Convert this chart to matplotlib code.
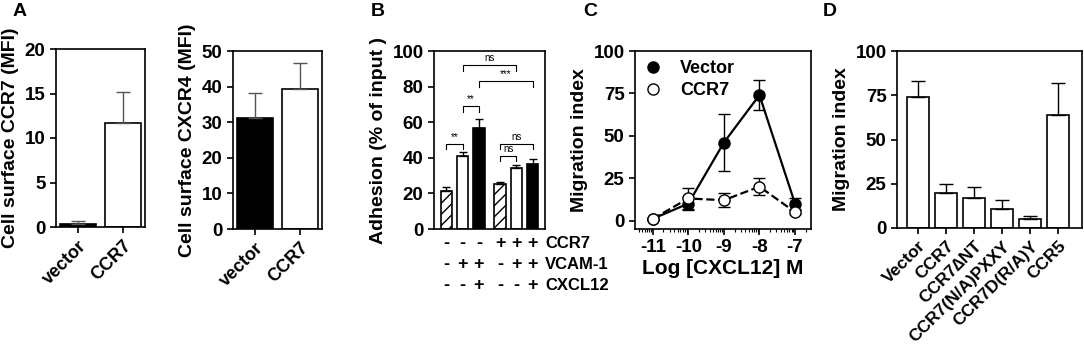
import numpy as np
import matplotlib
matplotlib.use("Agg")
import matplotlib.pyplot as plt
from matplotlib.lines import Line2D

plt.rcParams['font.family'] = ['Liberation Sans', 'DejaVu Sans']
plt.rcParams['font.weight'] = 'bold'
plt.rcParams['axes.labelweight'] = 'bold'
plt.rcParams['axes.linewidth'] = 1.2
plt.rcParams['xtick.major.width'] = 1.2
plt.rcParams['ytick.major.width'] = 1.2
plt.rcParams['xtick.major.size'] = 4
plt.rcParams['ytick.major.size'] = 4

# ---- data ----
# panel A
a_labels = ["vector", "CCR7"]
a1_vals = [0.3, 11.7]
a1_err = [0.35, 3.5]
a2_vals = [31.2, 39.2]
a2_err = [7.0, 7.5]

# panel B
b_vals = [21.5, 41.0, 57.0, 25.3, 34.0, 36.7]
b_err = [2.0, 2.5, 5.0, 1.0, 2.0, 2.5]
b_pos = [0, 1, 2, 3.3, 4.3, 5.3]
b_rows = ["CCR7", "VCAM-1", "CXCL12"]
b_signs = [["-", "-", "-", "+", "+", "+"],
           ["-", "+", "+", "-", "+", "+"],
           ["-", "-", "+", "-", "-", "+"]]
# brackets: (bar i, bar j, height, label)
b_brackets = [(0, 1, 48, "**"), (1, 2, 69, "**"), (1, 4, 92, "ns"),
              (2, 5, 83, "***"), (3, 4, 41, "ns"), (3, 5, 48, "ns")]

# panel C
c_x = [-11, -10, -9, -8, -7]
c_vector = [1, 10, 46, 74, 10]
c_vector_err = [0.5, 4, 17, 9, 3]
c_ccr7 = [1, 13, 12, 20, 5]
c_ccr7_err = [0.5, 6, 4, 5, 1]

# panel D
d_labels = ["Vector", "CCR7", "CCR7\u2206NT", "CCR7(N/A)PXXY", "CCR7D(R/A)Y", "CCR5"]
d_vals = [74, 20, 17, 10.5, 5, 64]
d_err = [9, 5, 6, 5.5, 2, 18]

W, H = 1084, 345
fig = plt.figure(figsize=(W / 100, H / 100), dpi=100)


def add_ax(l, t, r, b):
    return fig.add_axes([l / W, 1 - b / H, (r - l) / W, (b - t) / H])


def bar_panel(ax, vals, err, colors, labels, ylim, yticks, ylabel, ecolor="black", xfs=13):
    x = np.arange(len(vals))
    ax.bar(x, vals, width=0.8, color=colors, edgecolor="black", linewidth=1.2)
    ax.errorbar(x, vals, yerr=[np.zeros(len(err)), err], fmt="none",
                ecolor=ecolor, elinewidth=1, capsize=5, capthick=1)
    ax.set_xlim(-0.5, len(vals) - 0.5)
    ax.set_ylim(*ylim)
    ax.set_yticks(yticks)
    ax.set_xticks(x)
    ax.set_xticklabels(labels, rotation=45, ha="right", rotation_mode="anchor", fontsize=xfs)
    ax.tick_params(axis="y", labelsize=13.5)
    ax.set_ylabel(ylabel, fontsize=14, labelpad=4)


# A1
ax = add_ax(56, 49, 145, 227)
bar_panel(ax, a1_vals, a1_err, ["black", "white"], a_labels, (0, 20),
          [0, 5, 10, 15, 20], "Cell surface CCR7 (MFI)", ecolor="#555555")

# A2
ax = add_ax(233, 51, 322, 229)
bar_panel(ax, a2_vals, a2_err, ["black", "white"], a_labels, (0, 50),
          [0, 10, 20, 30, 40, 50], "Cell surface CXCR4 (MFI)", ecolor="#555555")

# B
ax = add_ax(434, 51, 545, 229)
hatches = ["///", "", "", "///", "", ""]
colors = ["white", "white", "black", "white", "white", "black"]
for p, v, c, h in zip(b_pos, b_vals, colors, hatches):
    ax.bar(p, v, width=0.7, color=c, edgecolor="black", hatch=h, linewidth=1.2)
ax.errorbar(b_pos, b_vals, yerr=[np.zeros(len(b_err)), b_err], fmt="none",
            ecolor="black", elinewidth=1, capsize=3, capthick=1)
for i, j, hgt, lab in b_brackets:
    x1, x2 = b_pos[i], b_pos[j]
    ax.plot([x1, x1, x2, x2], [hgt - 3, hgt, hgt, hgt - 3], color="black", lw=0.8)
    ax.text((x1 + x2) / 2, hgt + 1, lab, ha="center", va="bottom", fontsize=7,
            fontweight="normal")
ax.set_xlim(-0.75, 6.05)
ax.set_ylim(0, 100)
ax.set_yticks([0, 20, 40, 60, 80, 100])
ax.set_xticks([])
ax.tick_params(axis="y", labelsize=13.5)
ax.set_ylabel("Adhesion (% of input )", fontsize=14, labelpad=4)
tr = ax.get_xaxis_transform()
row_y = [-0.08, -0.2, -0.315]
for ry, name, signs in zip(row_y, b_rows, b_signs):
    for p, s in zip(b_pos, signs):
        ax.text(p, ry, s, transform=tr, ha="center", va="center", fontsize=13)
    ax.text(b_pos[-1] + 0.75, ry, name, transform=tr, ha="left", va="center", fontsize=12)

# C
ax = add_ax(635, 51, 811, 229)
ax.errorbar(c_x, c_vector, yerr=c_vector_err, color="black", lw=1.6, marker="o",
            markersize=8, markerfacecolor="black", markeredgecolor="black",
            capsize=4, elinewidth=1, capthick=1)
ax.errorbar(c_x, c_ccr7, yerr=c_ccr7_err, color="black", lw=1.6, ls="--", marker="o",
            markersize=8, markerfacecolor="white", markeredgecolor="black",
            capsize=4, elinewidth=1, capthick=1)
ax.set_xlim(-11.5, -6.55)
ax.set_ylim(-5, 100)
ax.set_yticks([0, 25, 50, 75, 100])
ax.set_xticks(c_x)
ax.set_xticklabels([str(v) for v in c_x])
minor = [d + np.log10(k) for d in range(-12, -6) for k in range(2, 10)]
minor = [m for m in minor if -11.5 < m < -6.55]
ax.set_xticks(minor, minor=True)
ax.tick_params(axis="x", which="minor", length=2.5, width=0.8)
ax.tick_params(labelsize=13.5)
ax.set_ylabel("Migration index", fontsize=14, labelpad=4)
ax.set_xlabel("Log [CXCL12] M", fontsize=15, labelpad=2)
handles = [Line2D([], [], ls="none", marker="o", markersize=8, color="black"),
           Line2D([], [], ls="none", marker="o", markersize=8, markerfacecolor="white",
                  markeredgecolor="black")]
ax.legend(handles, ["Vector", "CCR7"], loc="upper left", frameon=False, fontsize=13,
          handlelength=1.0, handletextpad=1.0, borderaxespad=0.2, borderpad=0.3,
          labelspacing=0.3)

# D
ax = add_ax(897, 51, 1082, 228)
bar_panel(ax, d_vals, d_err, ["white"] * 6, d_labels, (0, 100),
          [0, 25, 50, 75, 100], "Migration index", xfs=12.5)
ax.set_xlim(-0.75, 5.85)

# panel letters
for x, lab in [(20, "A"), (378, "B"), (590, "C"), (830, "D")]:
    fig.text(x / W, 1 - 12 / H, lab, fontsize=14, fontweight="bold", va="center", ha="center")

fig.savefig("out.png", dpi=100)
